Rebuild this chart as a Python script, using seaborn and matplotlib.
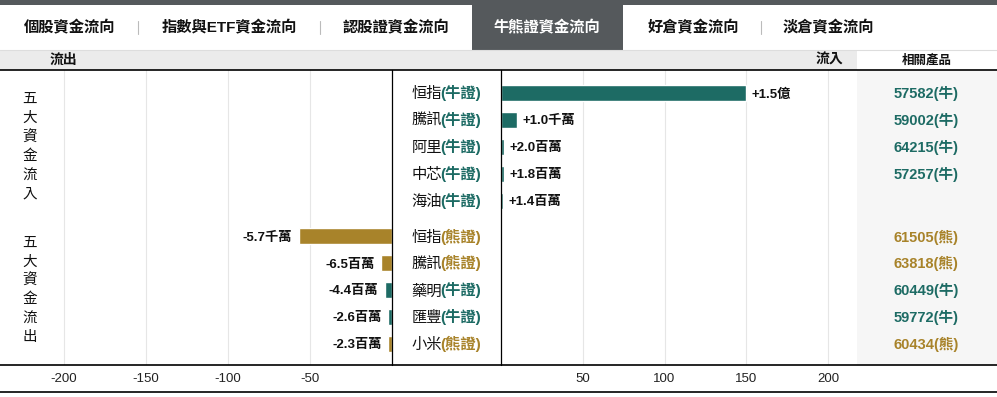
import numpy as np
import pandas as pd
import matplotlib
matplotlib.use("Agg")
import matplotlib.pyplot as plt
import seaborn as sns
from matplotlib.patches import Rectangle
from matplotlib.lines import Line2D
from matplotlib.transforms import blended_transform_factory, offset_copy

# %% data (values in millions HKD)
tabs = ['個股資金流向', '指數與ETF資金流向', '認股證資金流向', '牛熊證資金流向', '好倉資金流向', '淡倉資金流向']
active_tab = '牛熊證資金流向'

in_names = ['恒指', '騰訊', '阿里', '中芯', '海油']
in_types = ['牛證', '牛證', '牛證', '牛證', '牛證']
in_values = [150, 10, 2.0, 1.8, 1.4]
in_labels = ['+1.5億', '+1.0千萬', '+2.0百萬', '+1.8百萬', '+1.4百萬']
in_products = ['57582(牛)', '59002(牛)', '64215(牛)', '57257(牛)', '']

out_names = ['恒指', '騰訊', '藥明', '匯豐', '小米']
out_types = ['熊證', '熊證', '牛證', '牛證', '熊證']
out_values = [-57, -6.5, -4.4, -2.6, -2.3]
out_labels = ['-5.7千萬', '-6.5百萬', '-4.4百萬', '-2.6百萬', '-2.3百萬']
out_products = ['61505(熊)', '63818(熊)', '60449(牛)', '59772(牛)', '60434(熊)']

left_ticks = [-200, -150, -100, -50]
right_ticks = [50, 100, 150, 200]

# %% style
teal = '#1d6b64'
gold = '#a8832a'
type_colors = {'牛證': teal, '熊證': gold}
dark = '#55595c'

sns.set_theme(style='white')
plt.rcParams['font.family'] = ['Liberation Sans', 'Noto Sans CJK TC', 'DejaVu Sans']

W, H = 997, 397
def fx(x):
    return x / W
def fy(y):
    return 1 - y / H

fig = plt.figure(figsize=(W / 100, H / 100), dpi=100)
fig.patch.set_facecolor('white')

def rect(x0, y0, x1, y1, color, z=-1):
    fig.patches.append(Rectangle((fx(x0), fy(y1)), fx(x1) - fx(x0), (y1 - y0) / H,
                                 transform=fig.transFigure, color=color, zorder=z, lw=0))

def hline(y, x0=0, x1=W, color='black', lw=1.2):
    fig.add_artist(Line2D([fx(x0), fx(x1)], [fy(y), fy(y)], transform=fig.transFigure,
                          color=color, lw=lw, zorder=5))

def vline(x, y0, y1, color='black', lw=0.9):
    fig.add_artist(Line2D([fx(x), fx(x)], [fy(y0), fy(y1)], transform=fig.transFigure,
                          color=color, lw=lw, zorder=5))

# %% tabs + header
rect(0, 0, W, 5, dark)
tab_centers = [70, 229, 396, 547, 693, 828]
for t, cx in zip(tabs, tab_centers):
    if t == active_tab:
        rect(472, 0, 623, 50, dark)
        col = 'white'
    else:
        col = '#111111'
    fig.text(fx(cx), fy(27.5), t, ha='center', va='center', fontsize=11, fontweight='bold', color=col)
for sx in [138, 320, 761]:
    vline(sx, 21, 34, color='#bbbbbb', lw=0.8)
rect(0, 50, 857, 70, '#ebebeb')
hline(50, 0, W, color='#dddddd', lw=0.8)
fig.text(fx(63), fy(60), '流出', ha='center', va='center', fontsize=10, fontweight='bold', color='#111')
fig.text(fx(829), fy(60), '流入', ha='center', va='center', fontsize=10, fontweight='bold', color='#111')
fig.text(fx(927), fy(60), '相關產品', ha='center', va='center', fontsize=9, fontweight='bold', color='#111')
rect(857, 70, W, 365, '#f6f6f6')

# %% bars
n_in = len(in_names)
in_pos = np.arange(n_in)
out_pos = np.arange(len(out_names)) + n_in + 0.32
ylims = (10.11, -0.855)

df_in = pd.DataFrame({'name': in_names, 'type': in_types, 'value': in_values, 'pos': in_pos})
df_out = pd.DataFrame({'name': out_names, 'type': out_types, 'value': out_values, 'pos': out_pos})

ax_l = fig.add_axes([fx(0), fy(365), fx(392), 295 / H])
ax_r = fig.add_axes([fx(501), fy(365), fx(857) - fx(501), 295 / H])

for ax, d, lim, ticks in [(ax_l, df_out, (-239, 0), left_ticks), (ax_r, df_in, (0, 217.7), right_ticks)]:
    sns.barplot(data=d, x='value', y='pos', hue='type', palette=type_colors, orient='h',
                native_scale=True, dodge=False, width=0.6, errorbar=None, legend=False,
                saturation=1, ax=ax)
    ax.set_xlim(*lim)
    ax.set_ylim(*ylims)
    ax.set_facecolor('none')
    ax.set_xticks(ticks)
    ax.set_xticklabels([str(t) for t in ticks])
    ax.set_yticks([])
    ax.set_xlabel('')
    ax.set_ylabel('')
    ax.tick_params(axis='x', length=0, pad=6, labelsize=9.5, colors='#222222')
    for s in ax.spines.values():
        s.set_visible(False)
    ax.grid(True, axis='x', color='#e6e6e6', lw=0.8)
    ax.set_axisbelow(True)

for v, p, lbl in zip(in_values, in_pos, in_labels):
    ax_r.annotate(lbl, (v, p), xytext=(4, 0), textcoords='offset points', ha='left',
                  va='center_baseline', fontsize=9.5, fontweight='bold', color='#111111')
for v, p, lbl in zip(out_values, out_pos, out_labels):
    ax_l.annotate(lbl, (v, p), xytext=(-4.5, 0), textcoords='offset points', ha='right',
                  va='center_baseline', fontsize=9.5, fontweight='bold', color='#111111')

# %% middle names + products (shared baseline so mixed fonts line up)
tr = blended_transform_factory(fig.transFigure, ax_r.transData)
tr_base = offset_copy(tr, fig=fig, y=-3.9, units='points')
rows = list(zip(in_names, in_types, in_products, in_pos)) + list(zip(out_names, out_types, out_products, out_pos))
for name, typ, prod, p in rows:
    ax_r.text(fx(442), p, name, transform=tr_base, ha='right', va='baseline', fontsize=11,
              color='#111111')
    ax_r.text(fx(440.5), p, '(' + typ + ')', transform=tr_base, ha='left', va='baseline',
              fontsize=11, fontweight='bold', color=type_colors[typ])
    if prod:
        ax_r.text(fx(926), p, prod, transform=tr_base, ha='center', va='baseline', fontsize=10.5,
                  fontweight='bold', color=type_colors[prod[-2] + '證'])

# vertical group labels
row_px = 295 / (ylims[0] - ylims[1])
for title, pos in [('五大資金流入', in_pos), ('五大資金流出', out_pos)]:
    c = pos.mean()
    for k, ch in enumerate(title):
        ax_r.text(fx(30), c + (k - 2.5) * 19 / row_px, ch, transform=tr, ha='center', va='center',
                  fontsize=10.5, color='#111111')

# %% frame lines
hline(70)
hline(365)
hline(392)
vline(392, 70, 365)
vline(501, 70, 365)

fig.savefig('out.png', dpi=100)
